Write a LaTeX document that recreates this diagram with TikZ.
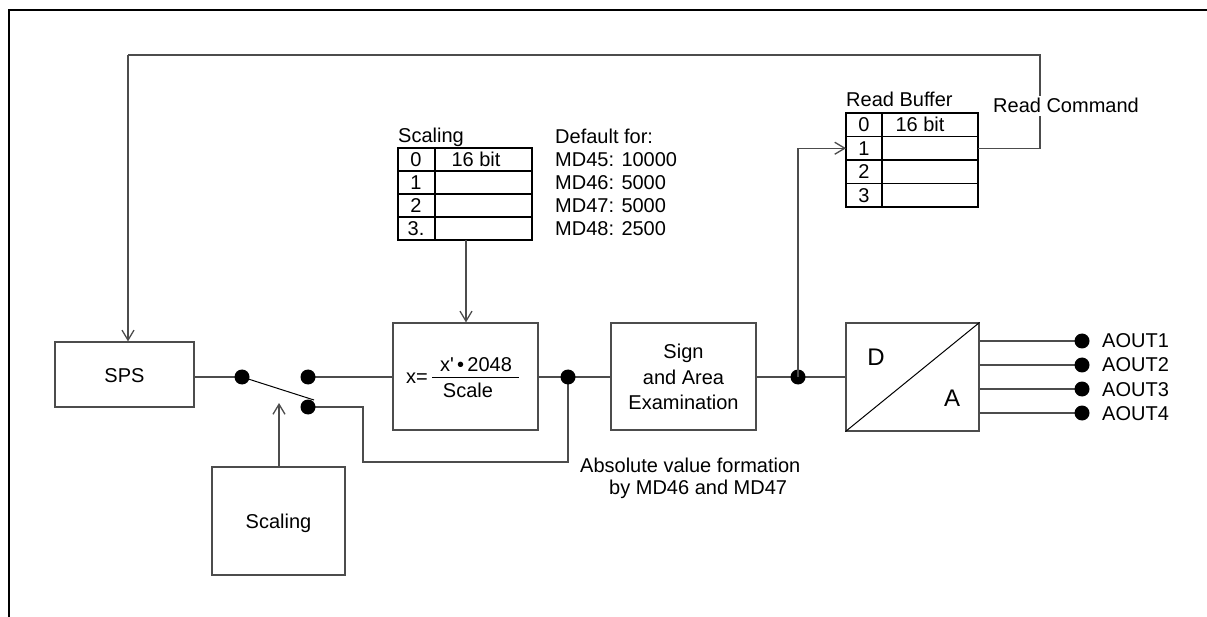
\documentclass[tikz,border=0pt]{standalone}
\usepackage{fontspec}
\setmainfont{Liberation Sans}
\newfontfamily\plainf{Liberation Sans}
\usetikzlibrary{arrows.meta}
\definecolor{linec}{gray}{0.3}
\begin{document}
\begin{tikzpicture}[x=1pt,y=-1pt,
  every node/.style={font=\fontsize{20}{23}\selectfont, inner sep=0pt},
  box/.style={draw=linec, line width=1.2pt, rectangle},
  wire/.style={draw=linec, line width=1.2pt},
  arr/.style={wire, -{Straight Barb[length=10pt,width=12pt,line width=1.3pt]}},
  dot/.style={fill=black, circle, minimum size=15pt, inner sep=0pt},
  frame/.style={draw=black, line width=2.8pt},
  big/.style={font=\fontsize{24}{28}\selectfont},
  txt/.style={anchor=base}
]
\useasboundingbox (0,0) rectangle (1207,617);
% page frame
\draw[frame] (9,617) -- (9,10) -- (1207,10);

% boxes
\node[box, minimum width=139pt, minimum height=65pt] (sps) at (124.5,374.5) {};
\node[txt] (spst) at (124.5,382) {SPS};
\node[box, minimum width=133pt, minimum height=108pt] (scal) at (278.5,521) {};
\node[txt] (scalt) at (278.5,528) {Scaling};
\node[box, minimum width=145pt, minimum height=107pt] (form) at (465.5,376.5) {};
\node[box, minimum width=145pt, minimum height=107pt] (sign) at (683.5,376.5) {};
\node[box, minimum width=133pt, minimum height=108pt] (da) at (912.5,377) {};
\draw[wire, line width=1pt, draw=black] (da.south west) -- (da.north east);
\node[big] (dt) at (876,357) {D};
\node[big] (at) at (952,398) {A};

% formula
\node (xeq) at (417,378) {x=};
\coordinate (fb1) at (432,377);
\coordinate (fb2) at (519,377);
\draw[black, line width=1pt] (fb1) -- (fb2);
\node (num) at (476,365) {{\plainf x'}\,•\,2048};
\node (den) at (468,390) {Scale};

% sign text
\node (s1) at (683.5,353) {Sign};
\node (s2) at (683.5,377) {and Area};
\node (s3) at (683.5,402) {Examination};

% junction points
\coordinate (p1) at (242,377);
\coordinate (p2) at (308,377);
\coordinate (p3) at (308,407);
\coordinate (q1) at (568,377);
\coordinate (q2) at (798,377);
\coordinate (blade) at (314,400);

% main line
\draw[wire] (sps.east |- p1) -- (p1);
\draw[wire, line width=1pt, draw=black] (p1) -- (blade);
\draw[wire] (p2) -- (form.west |- p2);
\draw[wire] (form.east |- q1) -- (q1) -- (sign.west |- q1);
\draw[wire] (sign.east |- q2) -- (q2) -- (da.west |- q2);
\coordinate (c1) at (363,407);
\coordinate (c2) at (363,462);
\coordinate (c3) at (568,462);
\draw[wire] (p3) -- (c1) -- (c2) -- (c3) -- (q1);
\coordinate (scarr) at (279,403);
\draw[arr] (scal.north -| scarr) -- (scarr);

% dots
\node[dot] (d1) at (p1) {};
\node[dot] (d2) at (p2) {};
\node[dot] (d3) at (p3) {};
\node[dot] (j1) at (q1) {};
\node[dot] (j2) at (q2) {};

% outputs
\foreach \i/\y in {1/341,2/365,3/389,4/413}{
  \coordinate (oc\i) at (1082,\y);
  \draw[wire] (da.east |- oc\i) -- (oc\i);
  \node[dot] (o\i) at (oc\i) {};
  \node[anchor=base west] (ot\i) at (1102,\y+7) {AOUT\i};
}

% Scaling table
\node[anchor=base west] (sclab) at (398,143) {Scaling};
\draw[black, line width=1.2pt] (398,148) rectangle (532,240);
\draw[black, line width=1.2pt] (435,148) -- (435,240);
\foreach \k in {1,2,3}{\draw[black, line width=1.2pt] (398,148+23*\k) -- (532,148+23*\k);}
\node (sr0) at (416,159.5) {0};
\node (sr0b) at (476,159.5) {16 bit};
\node (sr1) at (416,182.5) {1};
\node (sr2) at (416,205.5) {2};
\node (sr3) at (416,228.5) {3.};
\coordinate (stb) at (466,240);
\draw[arr] (stb) -- (form.north -| stb);

% default text
\node[anchor=base west] (df0) at (555,144) {Default for:};
\node[anchor=base west] (df1) at (555,167) {MD45: 10000};
\node[anchor=base west] (df2) at (555,190) {MD46: 5000};
\node[anchor=base west] (df3) at (555,213) {MD47: 5000};
\node[anchor=base west] (df4) at (555,236) {MD48: 2500};

% Read buffer table
\node[anchor=base west] (rblab) at (846,107) {Read Buffer};
\draw[black, line width=1.2pt] (846,113) rectangle (978,207);
\draw[black, line width=1.2pt] (882,113) -- (882,207);
\foreach \k in {1,2,3}{\draw[black, line width=1.2pt] (846,113+23.5*\k) -- (978,113+23.5*\k);}
\node (rr0) at (864,124.75) {0};
\node (rr0b) at (920,124.75) {16 bit};
\node (rr1) at (864,148.25) {1};
\node (rr2) at (864,171.75) {2};
\node (rr3) at (864,195.25) {3};
\coordinate (rb1) at (978,148.25);
\coordinate (rbin) at (846,148.25);

% feedback path
\coordinate (f1) at (1040,148.25);
\coordinate (f2) at (1040,55);
\coordinate (f3) at (128,55);
\draw[wire] (rb1) -- (f1) -- (f2) -- (f3);
\draw[arr] (f3) -- (sps.north -| f3);
\node[anchor=base west, fill=white, inner ysep=3pt, inner xsep=0pt] (rc) at (993,113) {Read Command};

% j2 to buffer
\coordinate (u1) at (798,148.25);
\draw[wire] (j2.center) -- (u1);
\draw[arr] (u1) -- (rbin);

% absolute value text
\node[anchor=base west] (ab1) at (580,472) {Absolute value formation};
\node[anchor=base west] (ab2) at (609,494) {by MD46 and MD47};
\end{tikzpicture}
\end{document}
